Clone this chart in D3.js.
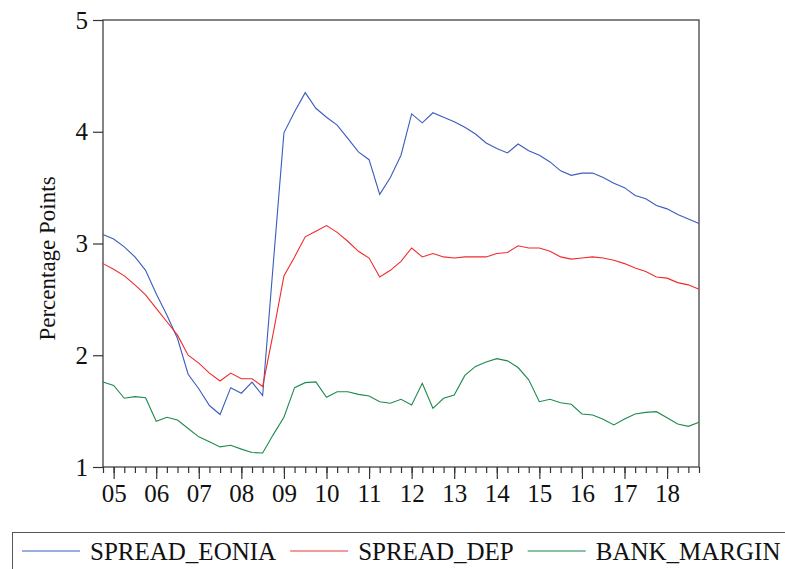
<!DOCTYPE html>
<html>
<head>
    <script src="https://cdnjs.cloudflare.com/ajax/libs/d3/7.8.5/d3.min.js"></script>
    <style>
        body { margin: 0; background: #fff; }
        text { font-family: "Liberation Serif", "Times New Roman", serif; fill: #111; }
    </style>
</head>
<body>
    <div id="chart"></div>

    <script>
        // quarterly observations, 2004Q4 .. 2018Q4
        const quarters = [
            "2004Q4",
            "2005Q1","2005Q2","2005Q3","2005Q4","2006Q1","2006Q2","2006Q3","2006Q4",
            "2007Q1","2007Q2","2007Q3","2007Q4","2008Q1","2008Q2","2008Q3","2008Q4",
            "2009Q1","2009Q2","2009Q3","2009Q4","2010Q1","2010Q2","2010Q3","2010Q4",
            "2011Q1","2011Q2","2011Q3","2011Q4","2012Q1","2012Q2","2012Q3","2012Q4",
            "2013Q1","2013Q2","2013Q3","2013Q4","2014Q1","2014Q2","2014Q3","2014Q4",
            "2015Q1","2015Q2","2015Q3","2015Q4","2016Q1","2016Q2","2016Q3","2016Q4",
            "2017Q1","2017Q2","2017Q3","2017Q4","2018Q1","2018Q2","2018Q3","2018Q4"
        ];

        const spreadEonia = [
            3.08,
            3.04, 2.97, 2.88, 2.76, 2.55, 2.36, 2.15, 1.83,
            1.70, 1.55, 1.47, 1.71, 1.66, 1.76, 1.64, 2.82,
            3.99, 4.18, 4.35, 4.21, 4.13, 4.06, 3.94, 3.82,
            3.75, 3.44, 3.59, 3.79, 4.16, 4.08, 4.17, 4.13,
            4.09, 4.04, 3.98, 3.90, 3.85, 3.81, 3.89, 3.83,
            3.79, 3.73, 3.65, 3.61, 3.63, 3.63, 3.59, 3.54,
            3.50, 3.43, 3.40, 3.34, 3.31, 3.26, 3.22, 3.18
        ];

        const spreadDep = [
            2.82,
            2.77, 2.71, 2.63, 2.54, 2.42, 2.30, 2.18, 2.00,
            1.93, 1.84, 1.77, 1.84, 1.79, 1.79, 1.72, 2.20,
            2.71, 2.88, 3.06, 3.11, 3.16, 3.10, 3.02, 2.93,
            2.87, 2.70, 2.76, 2.84, 2.96, 2.88, 2.91, 2.88,
            2.87, 2.88, 2.88, 2.88, 2.91, 2.92, 2.98, 2.96,
            2.96, 2.93, 2.88, 2.86, 2.87, 2.88, 2.87, 2.85,
            2.82, 2.78, 2.75, 2.70, 2.69, 2.65, 2.63, 2.59
        ];

        const bankMargin = [
            1.76,
            1.73, 1.615, 1.63, 1.62, 1.41, 1.445, 1.42, 1.345,
            1.27, 1.225, 1.18, 1.195, 1.16, 1.13, 1.125, 1.29,
            1.445, 1.71, 1.755, 1.762, 1.624, 1.674, 1.674, 1.65,
            1.635, 1.584, 1.57, 1.606, 1.555, 1.749, 1.525, 1.615,
            1.644, 1.82, 1.90, 1.94, 1.97, 1.95, 1.89, 1.78,
            1.584, 1.606, 1.575, 1.561, 1.474, 1.465, 1.427, 1.376,
            1.43, 1.474, 1.489, 1.495, 1.441, 1.385, 1.364, 1.40
        ];

        const yearLabels = ["05","06","07","08","09","10","11","12","13","14","15","16","17","18"];
        const yTicks = [1, 2, 3, 4, 5];

        const seriesNames = ["SPREAD_EONIA", "SPREAD_DEP", "BANK_MARGIN"];
        const lineColors = ["#3a5cbd", "#f22a2a", "#1f8a4c"];
        const legendColors = ["#7a93d6", "#f07878", "#62ad84"];

        const width = 785, height = 569;
        const plot = { left: 103, right: 699, top: 20, bottom: 467 };

        const svg = d3.select("#chart").append("svg")
            .attr("width", width)
            .attr("height", height);

        // quarter string -> fractional year (Q1 sits on the integer year)
        const toYear = q => +q.slice(0, 4) + (+q.slice(5) - 1) / 4;

        const x = d3.scaleLinear()
            .domain([toYear(quarters[0]), toYear(quarters[quarters.length - 1])])
            .range([plot.left, plot.right]);

        const y = d3.scaleLinear()
            .domain([1, 5])
            .range([plot.bottom, plot.top]);

        // frame
        svg.append("rect")
            .attr("x", plot.left)
            .attr("y", plot.top)
            .attr("width", plot.right - plot.left)
            .attr("height", plot.bottom - plot.top)
            .attr("fill", "none")
            .attr("stroke", "#333")
            .attr("stroke-width", 1.2);

        // y axis
        const yAxis = d3.axisLeft(y)
            .tickValues(yTicks)
            .tickFormat(d3.format("d"))
            .tickSize(10)
            .tickPadding(5);

        const yg = svg.append("g")
            .attr("transform", `translate(${plot.left},0)`)
            .call(yAxis);
        yg.select(".domain").remove();
        yg.selectAll(".tick line").attr("stroke", "#333").attr("stroke-width", 1.2);
        yg.selectAll(".tick text")
            .attr("font-size", 25)
            .attr("font-family", "Liberation Serif, serif")
            .attr("fill", "#111");

        // x axis: short tick every quarter, long tick + label at each year
        const qTicks = quarters.map(toYear);
        const years = yearLabels.map(s => 2000 + +s);

        const xMinor = d3.axisBottom(x)
            .tickValues(qTicks)
            .tickFormat("")
            .tickSize(6);
        const xg1 = svg.append("g")
            .attr("transform", `translate(0,${plot.bottom})`)
            .call(xMinor);
        xg1.select(".domain").remove();
        xg1.selectAll(".tick line").attr("stroke", "#333").attr("stroke-width", 1.2);

        const xMajor = d3.axisBottom(x)
            .tickValues(years)
            .tickFormat((d, i) => yearLabels[i])
            .tickSize(12)
            .tickPadding(5);
        const xg2 = svg.append("g")
            .attr("transform", `translate(0,${plot.bottom})`)
            .call(xMajor);
        xg2.select(".domain").remove();
        xg2.selectAll(".tick line").attr("stroke", "#333").attr("stroke-width", 1.2);
        xg2.selectAll(".tick text")
            .attr("font-size", 25)
            .attr("font-family", "Liberation Serif, serif")
            .attr("fill", "#111");

        // y title
        svg.append("text")
            .attr("transform", `translate(55,${(plot.top + plot.bottom) / 2 + 15}) rotate(-90)`)
            .attr("text-anchor", "middle")
            .attr("font-size", 23)
            .text("Percentage Points");

        // lines
        const allSeries = [spreadEonia, spreadDep, bankMargin];
        const line = d3.line()
            .x((d, i) => x(qTicks[i]))
            .y(d => y(d));

        allSeries.forEach((vals, k) => {
            svg.append("path")
                .datum(vals)
                .attr("d", line)
                .attr("fill", "none")
                .attr("stroke", lineColors[k])
                .attr("stroke-width", 1.1);
        });

        // legend
        svg.append("rect")
            .attr("x", 12.5)
            .attr("y", 532.5)
            .attr("width", 800)
            .attr("height", 80)
            .attr("fill", "none")
            .attr("stroke", "#555")
            .attr("stroke-width", 1);

        let lx = 22;
        seriesNames.forEach((name, k) => {
            svg.append("line")
                .attr("x1", lx)
                .attr("x2", lx + 58)
                .attr("y1", 551)
                .attr("y2", 551)
                .attr("stroke", legendColors[k])
                .attr("stroke-width", 1.5);
            const t = svg.append("text")
                .attr("x", lx + 68)
                .attr("y", 560)
                .attr("font-size", 25)
                .text(name);
            lx = lx + 68 + t.node().getComputedTextLength() + 14;
        });
    </script>
</body>
</html>
